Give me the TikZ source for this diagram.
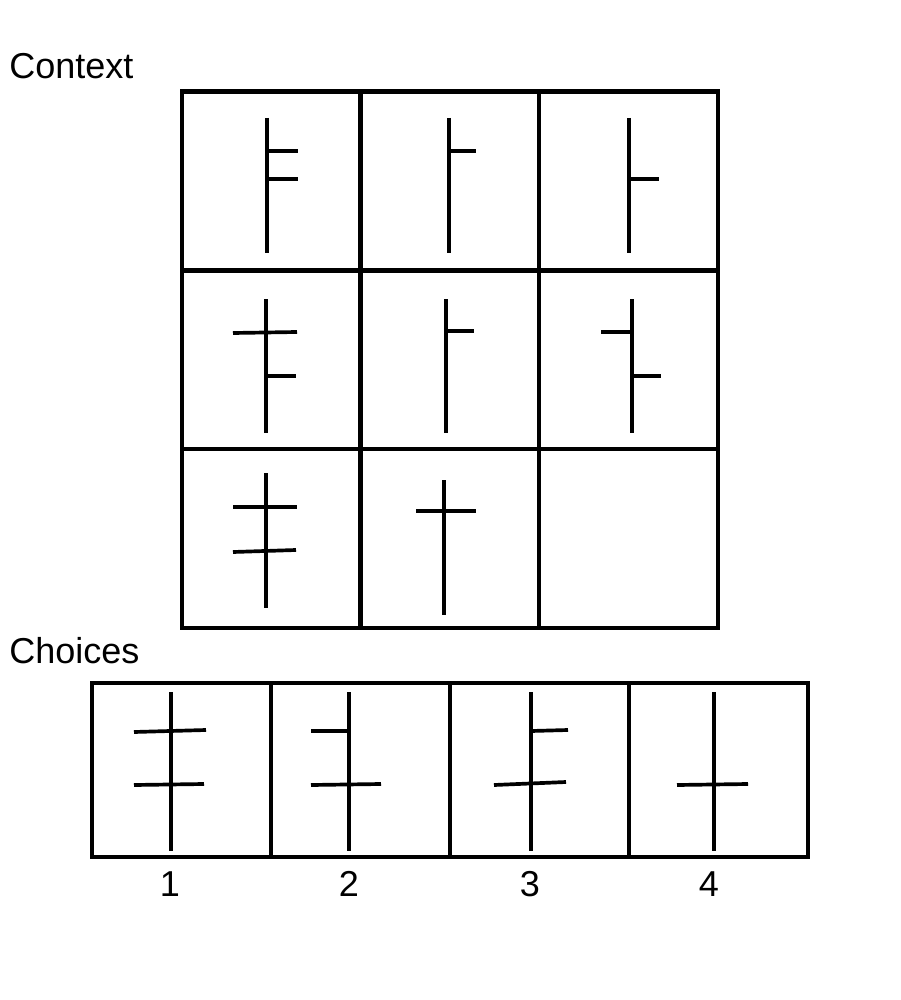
\documentclass[tikz,border=0pt]{standalone}
\usepackage{fontspec}
\setmainfont{Liberation Sans}
\usepackage{tikz}
\usetikzlibrary{positioning}
\tikzstyle{cell} = [rectangle, draw, line width=2.3pt, outer sep=0pt, minimum width=3.58cm, minimum height=3.58cm]
\tikzstyle{choice} = [rectangle, draw, line width=2.3pt, outer sep=0pt, minimum width=3.58cm, minimum height=3.48cm]
\tikzstyle{stroke} = [line width=2.1pt]
\tikzstyle{title} = [font=\fontsize{20.5}{24}\selectfont, inner sep=0pt, anchor=base west]
\tikzstyle{num} = [font=\fontsize{20.5}{24}\selectfont, inner sep=0pt, anchor=base]

\begin{document}
\begin{tikzpicture}[x=0.02cm, y=-0.02cm, node distance=0pt]
    \useasboundingbox (0,0) rectangle (900,1000);

    \node (context) [title] at (9,79) {Context};
    \node (choices) [title] at (9,663) {Choices};

    % context grid
    \node (c11) [cell] at (271,181) {};
    \node (c12) [cell, right=of c11] {};
    \node (c13) [cell, right=of c12] {};
    \node (c21) [cell, below=of c11] {};
    \node (c22) [cell, right=of c21] {};
    \node (c23) [cell, right=of c22] {};
    \node (c31) [cell, below=of c21] {};
    \node (c32) [cell, right=of c31] {};
    \node (c33) [cell, right=of c32] {};

    % row 1
    \draw[stroke] (267,118) -- (267,253);
    \draw[stroke] (267,151) -- (298,151);
    \draw[stroke] (267,179) -- (298,179);
    \draw[stroke] (449,118) -- (449,253);
    \draw[stroke] (449,151) -- (476,151);
    \draw[stroke] (629,118) -- (629,253);
    \draw[stroke] (629,179) -- (659,179);

    % row 2
    \draw[stroke] (266,299) -- (266,433);
    \draw[stroke] (233,333) -- (297,332);
    \draw[stroke] (266,376) -- (296,376);
    \draw[stroke] (446,299) -- (446,433);
    \draw[stroke] (446,331) -- (474,331);
    \draw[stroke] (632,299) -- (632,433);
    \draw[stroke] (601,332) -- (632,332);
    \draw[stroke] (632,376) -- (661,376);

    % row 3
    \draw[stroke] (266,473) -- (266,608);
    \draw[stroke] (233,507) -- (297,507);
    \draw[stroke] (233,552) -- (296,550);
    \draw[stroke] (444,480) -- (444,615);
    \draw[stroke] (416,511) -- (476,511);

    % choices
    \node (a1) [choice] at (181.5,770) {};
    \node (a2) [choice, right=of a1] {};
    \node (a3) [choice, right=of a2] {};
    \node (a4) [choice, right=of a3] {};

    \draw[stroke] (171,692) -- (171,851);
    \draw[stroke] (134,732) -- (206,730);
    \draw[stroke] (134,785) -- (204,784);
    \draw[stroke] (349,692) -- (349,851);
    \draw[stroke] (311,731) -- (349,731);
    \draw[stroke] (311,785) -- (381,784);
    \draw[stroke] (531,692) -- (531,851);
    \draw[stroke] (531,731) -- (568,730);
    \draw[stroke] (494,785) -- (566,782);
    \draw[stroke] (714,692) -- (714,851);
    \draw[stroke] (677,785) -- (748,784);

    \node (n1) [num] at (170,896) {1};
    \node (n2) [num] at (349,896) {2};
    \node (n3) [num] at (530,896) {3};
    \node (n4) [num] at (709,896) {4};
\end{tikzpicture}
\end{document}
